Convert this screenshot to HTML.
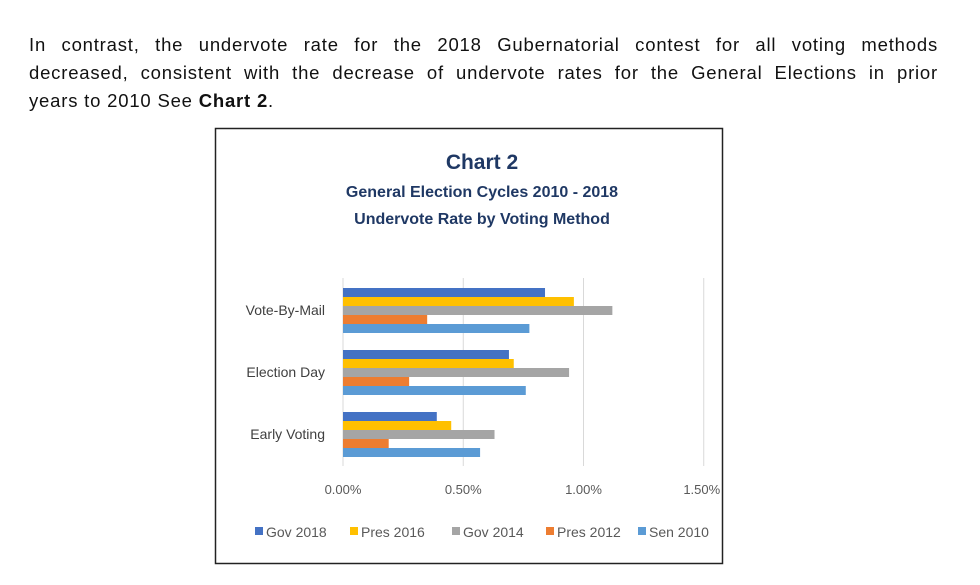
<!DOCTYPE html>
<html><head><meta charset="utf-8">
<style>
body{margin:0;background:#fff;width:980px;height:585px;overflow:hidden;font-family:"Liberation Sans",sans-serif;}
.para{position:absolute;left:29px;width:909px;font-size:18.5px;letter-spacing:0.8px;color:#111;}
.ln{height:28px;line-height:28px;text-align:justify;text-align-last:justify;white-space:nowrap;}
.ln.last{text-align:left;text-align-last:left;}
svg{position:absolute;left:0;top:0;}
</style></head><body>
<div class="para" style="top:31px">
<div class="ln" style="white-space:normal">In contrast, the undervote rate for the 2018 Gubernatorial contest for all voting methods</div>
<div class="ln" style="white-space:normal">decreased, consistent with the decrease of undervote rates for the General Elections in prior</div>
<div class="ln last">years to 2010 See <b>Chart 2</b>.</div>
</div>
<svg id="chart" width="980" height="585">
<rect x="215.5" y="128.5" width="507" height="435" fill="#fff" stroke="#222" stroke-width="1.5"/>
<text x="482" y="169" text-anchor="middle" font-size="21" font-weight="bold" fill="#1f3864">Chart 2</text>
<text x="482" y="197" text-anchor="middle" font-size="16" font-weight="bold" fill="#1f3864">General Election Cycles 2010 - 2018</text>
<text x="482" y="224" text-anchor="middle" font-size="16" font-weight="bold" fill="#1f3864">Undervote Rate by Voting Method</text>
<g id="plot"></g>
</svg>
<script>
const categories=["Vote-By-Mail","Election Day","Early Voting"];
const seriesNames=["Gov 2018","Pres 2016","Gov 2014","Pres 2012","Sen 2010"];
const gov2018=[0.84,0.69,0.39];
const pres2016=[0.96,0.71,0.45];
const gov2014=[1.12,0.94,0.63];
const pres2012=[0.35,0.275,0.19];
const sen2010=[0.775,0.76,0.57];
const ticks=[0,0.5,1.0,1.5];
const tickLabels=["0.00%","0.50%","1.00%","1.50%"];
const colors=["#4472c4","#ffc000","#a5a5a5","#ed7d31","#5b9bd5"];
const series=[gov2018,pres2016,gov2014,pres2012,sen2010];
const NS="http://www.w3.org/2000/svg";
const g=document.getElementById('plot');
const x0=343,pxPer=240.5;
const xs=v=>x0+v*pxPer;
const groupTop=i=>288+i*62;
const barH=9;
function mk(t,a){const e=document.createElementNS(NS,t);for(const k in a)e.setAttribute(k,a[k]);g.appendChild(e);return e;}
ticks.forEach((t,i)=>{
 const l=mk('line',{x1:xs(t),x2:xs(t),y1:278,y2:466,stroke:'#d9d9d9','stroke-width':1});
 
 
 const tx=mk('text',{x:xs(t)-(i===3?2:0),y:494,'text-anchor':'middle','font-size':13,fill:'#595959'});
 tx.textContent=tickLabels[i];
 
 
});
categories.forEach((c,ci)=>{
 const tx=mk('text',{x:325,y:groupTop(ci)+27,'text-anchor':'end','font-size':14,fill:'#404040'});
 tx.textContent=c;
 
 
 series.forEach((s,si)=>{
  const r=mk('rect',{x:x0,y:groupTop(ci)+si*barH,width:xs(s[ci])-x0,height:barH,fill:colors[si]});
  
  
 });
});
const legX=[255,350,452,546,638];
seriesNames.forEach((n,i)=>{
 const r=mk('rect',{x:legX[i],y:527,width:8,height:8,fill:colors[i]});
 
 
 const t=mk('text',{x:legX[i]+11,y:537,'font-size':14,fill:'#595959'});
 t.textContent=n;
 
 
});
</script>
</body></html>
